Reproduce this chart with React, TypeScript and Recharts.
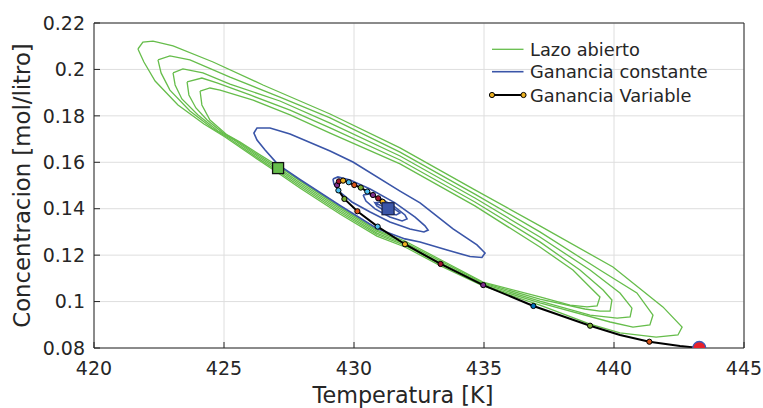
import { ComposedChart, Line, XAxis, YAxis, CartesianGrid } from "recharts";

const xTicks: number[] = [420, 425, 430, 435, 440, 445];
const yTicks: number[] = [0.08, 0.1, 0.12, 0.14, 0.16, 0.18, 0.2, 0.22];

// Lazo abierto: nested orbits, [T (K), C (mol/l)]
const lazo1: number[][] = [
  [421.69, 0.2088], [421.88, 0.2118], [422.27, 0.2122], [423.04, 0.2101], [424.58, 0.2032],
  [426.5, 0.1933], [429.08, 0.1808], [431.77, 0.1662], [434.65, 0.1481], [437.15, 0.1326],
  [439.96, 0.1149], [441.88, 0.0977], [442.62, 0.089], [442.46, 0.0856], [441.62, 0.0847],
  [440.23, 0.0865], [439.08, 0.0903], [437.15, 0.0985], [434.96, 0.1067], [433.35, 0.1153],
  [431.96, 0.1235], [430.88, 0.1282], [429.46, 0.1377], [427.92, 0.1489], [427.08, 0.1554],
  [426.27, 0.1614], [425.04, 0.1709], [424.23, 0.1765], [423.23, 0.1847], [422.35, 0.195],
  [421.92, 0.2032], [421.69, 0.2088],
];
const lazo2: number[][] = [
  [422.46, 0.2041], [422.92, 0.2058], [423.69, 0.2041], [425.23, 0.1967], [427.15, 0.1881],
  [429.08, 0.1791], [431.77, 0.1644], [434.65, 0.1463], [437.15, 0.13], [439.46, 0.1136],
  [440.88, 0.1037], [441.5, 0.0942], [441.38, 0.0899], [440.73, 0.089], [439.85, 0.0912],
  [437.15, 0.0994], [434.96, 0.1071], [433.35, 0.116], [431.96, 0.1242], [430.88, 0.1289],
  [429.46, 0.1385], [427.92, 0.1497], [427.08, 0.1561], [426.3, 0.1618], [425.23, 0.17],
  [424.54, 0.1748], [423.69, 0.1821], [422.92, 0.1911], [422.58, 0.1985], [422.46, 0.2041],
];
const lazo3: number[][] = [
  [423.04, 0.1985], [423.42, 0.2002], [424.19, 0.1985], [425.23, 0.1937], [427.15, 0.1864],
  [429.08, 0.1769], [431.77, 0.1627], [434.65, 0.1446], [437.15, 0.1278], [439.08, 0.1136],
  [440.23, 0.1037], [440.69, 0.0972], [440.62, 0.0934], [440.12, 0.0929], [439.08, 0.0942],
  [437.15, 0.1002], [434.96, 0.1076], [433.35, 0.1166], [431.96, 0.1248], [430.88, 0.1295],
  [429.46, 0.1392], [427.92, 0.1504], [427.08, 0.1569], [426.33, 0.1623], [425.38, 0.1696],
  [424.77, 0.1735], [424.0, 0.1804], [423.38, 0.1873], [423.12, 0.1933], [423.04, 0.1985],
];
const lazo4: number[][] = [
  [423.58, 0.1946], [424.15, 0.1963], [424.73, 0.1942], [426.0, 0.189], [427.54, 0.1825],
  [429.08, 0.1748], [431.77, 0.161], [434.65, 0.1429], [437.15, 0.1257], [438.69, 0.1136],
  [439.58, 0.105], [439.92, 0.1007], [439.85, 0.0959], [439.46, 0.0959], [438.88, 0.0968],
  [437.15, 0.1011], [434.96, 0.108], [433.35, 0.1173], [431.96, 0.1254], [430.88, 0.1302],
  [429.46, 0.14], [427.92, 0.1512], [427.08, 0.1576], [426.36, 0.1627], [425.5, 0.1692],
  [424.92, 0.173], [424.35, 0.1782], [423.92, 0.1834], [423.65, 0.189], [423.58, 0.1946],
];
const lazo5: number[][] = [
  [424.08, 0.1907], [424.46, 0.192], [424.85, 0.1911], [426.12, 0.1868], [427.54, 0.1804],
  [429.08, 0.1726], [431.77, 0.1593], [434.65, 0.1412], [437.15, 0.1235], [438.42, 0.1136],
  [439.08, 0.1062], [439.46, 0.102], [439.35, 0.0981], [438.96, 0.0977], [438.31, 0.0985],
  [437.15, 0.102], [434.96, 0.1084], [433.35, 0.1179], [431.96, 0.1261], [430.88, 0.1308],
  [429.46, 0.1407], [427.92, 0.152], [427.08, 0.1584], [426.4, 0.1631], [425.62, 0.1687],
  [425.12, 0.1718], [424.46, 0.1782], [424.15, 0.1847], [424.08, 0.1907],
];

// Ganancia constante: spiral into the equilibrium
const constante1: number[][] = [
  [427.08, 0.159], [427.92, 0.1526], [429.46, 0.1414], [430.88, 0.1315], [431.96, 0.127],
  [432.54, 0.1257], [433.58, 0.1222], [434.46, 0.1194], [434.92, 0.119], [435.04, 0.1209],
  [434.73, 0.1244], [433.81, 0.1313], [432.54, 0.1425], [431.77, 0.1476], [429.96, 0.1601],
  [429.08, 0.1649], [427.54, 0.1722], [426.77, 0.1748], [426.27, 0.1748], [426.15, 0.1726],
  [426.27, 0.1696], [426.58, 0.1653], [427.08, 0.159],
];
const constante2: number[][] = [
  [429.19, 0.1528], [429.38, 0.1537], [429.85, 0.1524], [430.62, 0.1485], [431.58, 0.1425],
  [432.35, 0.1364], [432.73, 0.1326], [432.85, 0.1308], [432.69, 0.13], [432.15, 0.1313],
  [431.38, 0.1343], [430.62, 0.1386], [429.92, 0.1429], [429.46, 0.1472], [429.23, 0.1506],
  [429.19, 0.1528],
];
const constante3: number[][] = [
  [430.35, 0.1459], [430.54, 0.1463], [431.0, 0.1446], [431.58, 0.1407], [431.96, 0.1373],
  [432.04, 0.1356], [431.85, 0.1347], [431.38, 0.1364], [430.81, 0.1399], [430.46, 0.1433],
  [430.35, 0.1459],
];
const constante4: number[][] = [
  [430.81, 0.1425], [431.0, 0.1429], [431.46, 0.1407], [431.77, 0.1382], [431.62, 0.1373],
  [431.19, 0.139], [430.88, 0.1412], [430.81, 0.1425], [431.35, 0.1399],
];

// Ganancia variable: trajectory and its sampled points
const variablePath: number[][] = [
  [443.28, 0.08], [442.54, 0.0809], [441.36, 0.0827], [440.23, 0.0856], [439.08, 0.0896],
  [436.9, 0.0981], [434.97, 0.1071], [433.33, 0.1162], [431.96, 0.1247], [430.91, 0.1323],
  [430.13, 0.1389], [429.63, 0.1442], [429.4, 0.1479], [429.35, 0.1502], [429.42, 0.1518],
  [429.58, 0.1521], [429.8, 0.1514], [430.01, 0.1502], [430.26, 0.1491], [430.51, 0.1474],
  [430.73, 0.1459], [430.93, 0.1445], [431.1, 0.143], [431.31, 0.14],
];
const variableMarks: number[][] = [
  [441.36, 0.0827], [439.08, 0.0896], [436.9, 0.0981], [434.97, 0.1071], [433.33, 0.1162],
  [431.96, 0.1247], [430.91, 0.1323], [430.13, 0.1389], [429.63, 0.1442], [429.4, 0.1479],
  [429.35, 0.1502], [429.42, 0.1518], [429.58, 0.1521], [429.8, 0.1514], [430.01, 0.1502],
  [430.26, 0.1491], [430.51, 0.1474], [430.73, 0.1459], [430.93, 0.1445], [431.1, 0.143],
];

const inicioAbierto: number[][] = [[427.08, 0.1575]];
const equilibrio: number[][] = [[431.31, 0.14]];
const inicioVariable: number[][] = [[443.28, 0.08]];

const GREEN = "#66bd4b";
const BLUE = "#3a55a8";
const TEXT = "#262626";
const MARK_COLORS = [
  "#d95319", "#77ac30", "#0072bd", "#7e2f8e", "#a2142f", "#edb120", "#4dbeee",
  "#d95319", "#77ac30", "#4dbeee", "#7e2f8e", "#a2142f", "#edb120", "#4dbeee",
  "#d95319", "#77ac30", "#4dbeee", "#7e2f8e", "#a2142f", "#edb120",
];

const pts = (a: number[][]) => a.map(([T, C]) => ({ T, C }));

const App = () => {
  const lazos = [lazo1, lazo2, lazo3, lazo4, lazo5];
  const constantes = [constante1, constante2, constante3, constante4];

  return (
    <div style={{ position: "relative", width: 763, height: 408, fontFamily: "DejaVu Sans" }}>
      <style>{"body { margin: 0; }"}</style>
      <ComposedChart width={763} height={408} margin={{ top: 22, right: 18, bottom: 0, left: 0 }}>
        <CartesianGrid stroke="#dedede" />
        <XAxis
          type="number"
          dataKey="T"
          domain={[420, 445]}
          ticks={xTicks}
          allowDataOverflow
          height={60}
          tickSize={-6}
          tickMargin={20}
          stroke={TEXT}
          tick={{ fill: TEXT, fontSize: 19 }}
          label={{ value: "Temperatura [K]", position: "insideBottom", offset: 5, dx: -16, fill: TEXT, fontSize: 22.3 }}
        />
        <XAxis
          xAxisId="top"
          orientation="top"
          type="number"
          dataKey="T"
          domain={[420, 445]}
          ticks={xTicks}
          allowDataOverflow
          height={1}
          tickSize={-6}
          tick={false}
          stroke={TEXT}
        />
        <YAxis
          type="number"
          domain={[0.08, 0.22]}
          ticks={yTicks}
          allowDataOverflow
          width={94}
          tickSize={-6}
          tickMargin={15}
          stroke={TEXT}
          tick={{ fill: TEXT, fontSize: 19 }}
          tickFormatter={(v: number) => String(v)}
          label={{
            value: "Concentracion [mol/litro]",
            angle: -90,
            position: "insideLeft",
            offset: 22,
            fill: TEXT,
            fontSize: 22.8,
            style: { textAnchor: "middle" },
          }}
        />
        <YAxis
          yAxisId="right"
          orientation="right"
          type="number"
          domain={[0.08, 0.22]}
          ticks={yTicks}
          allowDataOverflow
          width={1}
          tickSize={-6}
          tick={false}
          stroke={TEXT}
        />

        {lazos.map((l, i) => (
          <Line key={`lazo-${i}`} data={pts(l)} dataKey="C" type="linear" stroke={GREEN}
            strokeWidth={1.3} dot={false} isAnimationActive={false} />
        ))}
        {constantes.map((l, i) => (
          <Line key={`cte-${i}`} data={pts(l)} dataKey="C" type="linear" stroke={BLUE}
            strokeWidth={1.6} dot={false} isAnimationActive={false} />
        ))}
        <Line data={pts(variablePath)} dataKey="C" type="linear" stroke="#000"
          strokeWidth={2} dot={false} isAnimationActive={false} />
        <Line
          data={pts(variableMarks)}
          dataKey="C"
          stroke="none"
          isAnimationActive={false}
          dot={(p: any) => (
            <circle key={`m-${p.index}`} cx={p.cx} cy={p.cy} r={2.6}
              fill={MARK_COLORS[p.index % MARK_COLORS.length]} stroke="#000" strokeWidth={1} />
          )}
        />
        <Line
          data={pts(inicioAbierto)}
          dataKey="C"
          stroke="none"
          isAnimationActive={false}
          dot={(p: any) => (
            <rect key="sq-g" x={p.cx - 5.5} y={p.cy - 5.5} width={11} height={11}
              fill={GREEN} stroke="#111" strokeWidth={1.3} />
          )}
        />
        <Line
          data={pts(equilibrio)}
          dataKey="C"
          stroke="none"
          isAnimationActive={false}
          dot={(p: any) => (
            <rect key="sq-b" x={p.cx - 6} y={p.cy - 6} width={12} height={12}
              fill={BLUE} stroke="#1b2550" strokeWidth={1.3} />
          )}
        />
        <Line
          data={pts(inicioVariable)}
          dataKey="C"
          stroke="none"
          isAnimationActive={false}
          dot={(p: any) => (
            <circle key="c-r" cx={p.cx} cy={p.cy} r={6.5} fill="#e8202a" stroke="#3d5bb8" strokeWidth={1.3} />
          )}
        />
      </ComposedChart>

      <svg width={763} height={408} style={{ position: "absolute", left: 0, top: 0, pointerEvents: "none" }}>
        <line x1={492} x2={523.5} y1={49.3} y2={49.3} stroke={GREEN} strokeWidth={1.3} />
        <line x1={492} x2={523.5} y1={71.7} y2={71.7} stroke={BLUE} strokeWidth={1.6} />
        <line x1={492} x2={523.5} y1={95} y2={95} stroke="#000" strokeWidth={2} />
        <circle cx={492} cy={95} r={2.6} fill="#edb120" stroke="#000" strokeWidth={1} />
        <circle cx={523.5} cy={95} r={2.6} fill="#edb120" stroke="#000" strokeWidth={1} />
        <g fill={TEXT} fontSize={17.8} fontFamily="DejaVu Sans" dominantBaseline="central">
          <text x={530} y={49.3}>Lazo abierto</text>
          <text x={530} y={71.7}>Ganancia constante</text>
          <text x={530} y={95}>Ganancia Variable</text>
        </g>
      </svg>
    </div>
  );
};

export default App;
